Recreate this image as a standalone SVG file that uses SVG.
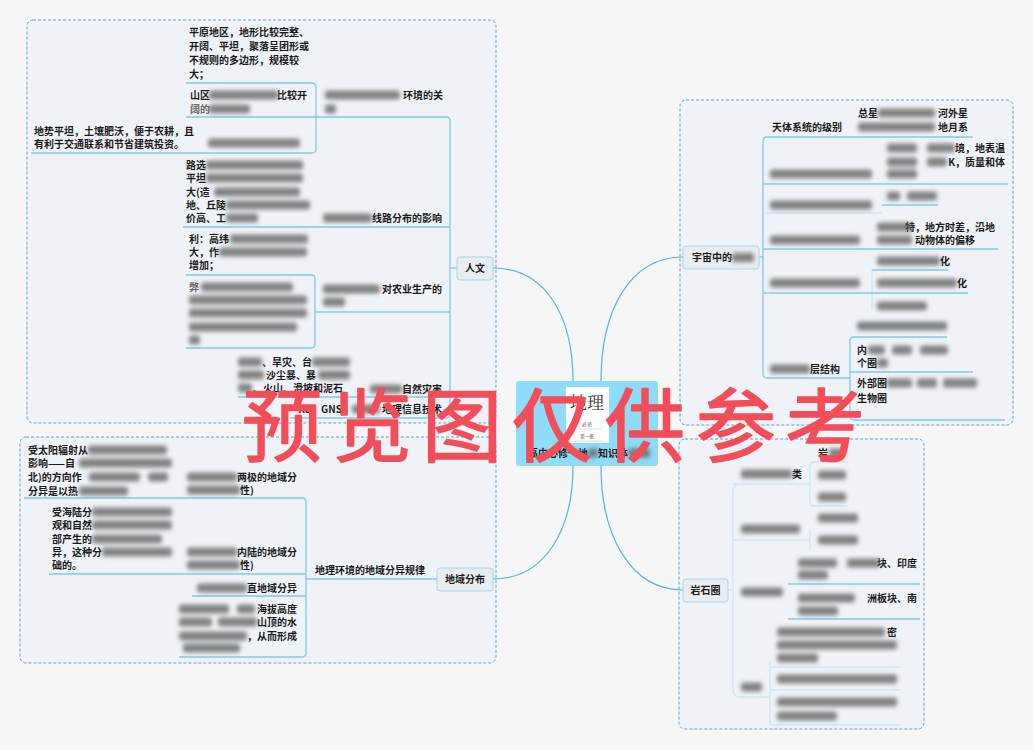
<svg xmlns="http://www.w3.org/2000/svg" width="1033" height="750" viewBox="0 0 1033 750">
<defs>
<filter id="bl" filterUnits="userSpaceOnUse" x="0" y="0" width="1033" height="750"><feGaussianBlur stdDeviation="2"/></filter>
<style>
text{font-family:"Noto Sans CJK SC","Liberation Sans",sans-serif;font-size:10px;font-weight:bold;fill:#1a1a1a}
.e{text-anchor:end}
.m{text-anchor:middle}
.b{font-weight:bold}
.bl rect{fill:#5e5e5e;opacity:.75}
.panel{fill:#eff3f7;stroke:#5f9fd8;stroke-width:1;stroke-dasharray:3 2}
.ln{fill:none;stroke:#7fcaf0;stroke-width:1.3}
.fl{fill:none;stroke:#cfe6f4;stroke-width:1.3}
.main{fill:none;stroke:#52b3ea;stroke-width:1.2}
.nd{fill:#e9edf0;stroke:#a3d7f3;stroke-width:1}
.wm{font-size:80px;font-weight:400;fill:#f24e59;stroke:#f24e59;stroke-width:1.6;stroke-linejoin:round}
</style>
</defs>
<rect width="1033" height="750" fill="#f6f6f6"/>

<!-- panels -->
<rect class="panel" x="27" y="20" width="469" height="403" rx="6"/>
<rect class="panel" x="20" y="437" width="476" height="226" rx="6"/>
<rect class="panel" x="680" y="100" width="333" height="325" rx="6"/>
<rect class="panel" x="679" y="439" width="245" height="290" rx="6"/>

<g id="connectors">
<path class="main" d="M493,268 C545,268 573,315 573,381"/>
<path class="main" d="M683,257 C630,257 601,310 601,381"/>
<path class="main" d="M493,579 C545,579 573,530 573,466"/>
<path class="main" d="M683,590 C630,590 601,535 601,466"/>
<!-- panel 1 -->
<path class="ln" d="M186,83 H312 Q316,83 316,87 V149 Q316,153 312,153 H31"/>
<path class="ln" d="M186,117 H446 Q450,117 450,121 V414 Q450,418 446,418 H290"/>
<path class="ln" d="M183,227 H450"/>
<path class="ln" d="M186,275 H311 Q315,275 315,279 V344 Q315,348 311,348 H186"/>
<path class="ln" d="M315,312 H450"/>
<path class="ln" d="M238,397 H450"/>
<path class="ln" d="M450,268 H457"/>
<!-- panel 2 -->
<path class="ln" d="M24,498 H302 Q306,498 306,502 V653 Q306,657 302,657 H179"/>
<path class="ln" d="M49,574 H306"/>
<path class="ln" d="M192,596 H306"/>
<path class="ln" d="M306,579 H437"/>
<!-- panel 3 -->
<path class="ln" d="M973,137 H767 Q763,137 763,141 V374 Q763,378 767,378 H850"/>
<path class="ln" d="M759,257 H763"/>
<path class="ln" d="M763,184 H1008"/>
<path class="ln" d="M882,205 H938"/>
<path class="fl" d="M763,213 H882"/>
<path class="ln" d="M763,249 H998"/>
<path class="ln" d="M872,270 H948"/>
<path class="fl" d="M872,270 V310"/>
<path class="ln" d="M763,293 H968"/>
<path class="ln" d="M947,337 H854 Q850,337 850,341 V416 Q850,420 854,420 H1005"/>
<path class="ln" d="M850,372 H973"/>
<!-- panel 4 -->
<path class="fl" d="M728,590 H733"/>
<path class="fl" d="M741,484 Q733,484 733,492 V689 Q733,697 741,697 H770"/>
<path class="fl" d="M733,484 H810"/>
<path class="fl" d="M848,462 H814 Q810,462 810,466 V502 Q810,506 814,506 H848"/>
<path class="fl" d="M733,540 H810 M810,530 V550"/>
<path class="ln" d="M788,584 H920"/>
<path class="ln" d="M788,619 H920"/>
<path class="fl" d="M770,667 H900 M770,690 H900 M770,725 H900 M770,660 V725"/>
</g>

<!-- center -->
<g id="center">
<rect x="516" y="381" width="142" height="85" rx="3" fill="#8edcf7"/>
<rect x="566" y="387" width="43" height="56" fill="#ffffff"/>
<text x="587" y="409" class="m" style="font-family:'Noto Serif CJK SC','Noto Sans CJK SC',serif;font-size:17px;font-weight:normal;fill:#333">地理</text>
<text x="587" y="425.5" class="m" style="font-size:4.5px;font-weight:normal;fill:#555">必 修</text>
<line x1="572" y1="429" x2="602" y2="429" stroke="#bbb" stroke-width=".5"/>
<text x="587" y="437.5" class="m" style="font-size:4.5px;font-weight:normal;fill:#555">第一册</text>
<line x1="572" y1="441" x2="602" y2="441" stroke="#bbb" stroke-width=".5"/>
<text x="528" y="457" class="b">高中必修一地</text>
<text x="598" y="457" class="b">知识体</text>
<g class="bl" filter="url(#bl)"><rect x="588" y="448.5" width="10" height="9" rx="3"/><rect x="628" y="448.5" width="22" height="9" rx="3"/></g>
</g>

<!-- main branch nodes -->
<g id="n-renwen"><rect class="nd" x="457" y="257" width="36" height="23" rx="3"/><text x="475" y="272" class="m b">人文</text></g>
<g id="n-diyu"><rect class="nd" x="437" y="568" width="56" height="23" rx="3"/><text x="465" y="583" class="m b">地域分布</text></g>
<g id="n-yuzhou"><rect class="nd" x="683" y="246" width="76" height="23" rx="3"/><text x="692" y="261" class="b">宇宙中的</text><g class="bl" filter="url(#bl)"><rect x="732" y="253" width="22" height="9" rx="3"/></g></g>
<g id="n-yanshi"><rect class="nd" x="683" y="579" width="45" height="23" rx="3"/><text x="705.5" y="594" class="m b">岩石圈</text></g>

<!-- panel 1: 人文 -->
<g id="n-pingyuan"><text x="189" y="36">平原地区，地形比较完整、</text><text x="189" y="50">开阔、平坦，聚落呈团形或</text><text x="189" y="64">不规则的多边形，规模较</text><text x="189" y="78">大；</text></g>
<g id="n-shanqu"><text x="190" y="99">山区</text><text x="307" y="99" class="e">比较开</text><text x="190" y="113" style="fill:#666">阔的</text>
<g class="bl" filter="url(#bl)"><rect x="209" y="90.5" width="69" height="9" rx="3"/><rect x="209" y="104.5" width="41" height="9" rx="3"/></g></g>
<g id="n-blur1"><g class="bl" filter="url(#bl)"><rect x="208" y="138.5" width="92" height="9" rx="3"/></g></g>
<g id="n-dishi"><text x="34" y="135">地势平坦，土壤肥沃，便于农耕，且</text><text x="34" y="148">有利于交通联系和节省建筑投资。</text></g>
<g id="n-juluo"><text x="443" y="99" class="e">环境的关</text><g class="bl" filter="url(#bl)"><rect x="325" y="90.5" width="75" height="9" rx="3"/><rect x="325" y="104.5" width="11" height="9" rx="3"/></g></g>
<g id="n-luxuan"><text x="186" y="169">路选</text><text x="186" y="182">平坦</text><text x="186" y="196">大(造</text><text x="186" y="209">地、丘陵</text><text x="186" y="222">价高、工</text>
<g class="bl" filter="url(#bl)"><rect x="206" y="160.5" width="97" height="9" rx="3"/><rect x="206" y="173.5" width="97" height="9" rx="3"/><rect x="214" y="187.5" width="86" height="9" rx="3"/><rect x="226" y="200.5" width="84" height="9" rx="3"/><rect x="226" y="213.5" width="32" height="9" rx="3"/></g></g>
<g id="n-xianlu"><text x="442" y="222" class="e">线路分布的影响</text><g class="bl" filter="url(#bl)"><rect x="323" y="213.5" width="49" height="9" rx="3"/></g></g>
<g id="n-li"><text x="189" y="243">利：高纬</text><text x="189" y="256">大，作</text><text x="189" y="269">增加；</text>
<g class="bl" filter="url(#bl)"><rect x="230" y="234.5" width="78" height="9" rx="3"/><rect x="219" y="247.5" width="88" height="9" rx="3"/></g></g>
<g id="n-bi"><text x="189" y="291" style="fill:#666">弊</text>
<g class="bl" filter="url(#bl)"><rect x="201" y="282.5" width="92" height="9" rx="3"/><rect x="189" y="295.5" width="118" height="9" rx="3"/><rect x="189" y="308.5" width="118" height="9" rx="3"/><rect x="189" y="322.5" width="108" height="9" rx="3"/><rect x="189" y="335.5" width="11" height="9" rx="3"/></g></g>
<g id="n-nongye"><text x="442" y="293" class="e">对农业生产的</text><g class="bl" filter="url(#bl)"><rect x="323" y="284.5" width="57" height="9" rx="3"/><rect x="323" y="297.5" width="22" height="9" rx="3"/></g></g>
<g id="n-zaihai-list"><text x="262" y="366">、旱灾、台</text><text x="266" y="379">沙尘暴、暴</text><text x="253" y="392">、火山、滑坡和泥石</text>
<g class="bl" filter="url(#bl)"><rect x="238" y="357.5" width="24" height="9" rx="3"/><rect x="312" y="357.5" width="38" height="9" rx="3"/><rect x="238" y="370.5" width="26" height="9" rx="3"/><rect x="318" y="370.5" width="32" height="9" rx="3"/><rect x="238" y="383.5" width="14" height="9" rx="3"/></g></g>
<g id="n-zaihai"><text x="442" y="393" class="e">自然灾害</text><g class="bl" filter="url(#bl)"><rect x="370" y="384.5" width="32" height="9" rx="3"/></g></g>
<g id="n-gis"><text x="348" y="413" class="e">RS、GNSS</text><text x="442" y="413" class="e">地理信息技术</text><g class="bl" filter="url(#bl)"><rect x="352" y="404.5" width="28" height="9" rx="3"/></g></g>

<!-- panel 2: 地域分布 -->
<g id="n-taiyang"><text x="28" y="454">受太阳辐射从</text><text x="28" y="467">影响——自</text><text x="28" y="481">北)的方向作</text><text x="28" y="495">分异是以热</text>
<g class="bl" filter="url(#bl)"><rect x="88" y="445.5" width="79" height="9" rx="3"/><rect x="79" y="458.5" width="93" height="9" rx="3"/><rect x="89" y="472.5" width="51" height="9" rx="3"/><rect x="148" y="472.5" width="20" height="9" rx="3"/><rect x="79" y="486.5" width="49" height="9" rx="3"/></g></g>
<g id="n-liangji"><text x="297" y="481" class="e">两极的地域分</text><text x="240" y="494">性)</text>
<g class="bl" filter="url(#bl)"><rect x="187" y="472.5" width="50" height="9" rx="3"/><rect x="187" y="485.5" width="53" height="9" rx="3"/></g></g>
<g id="n-hailu"><text x="52" y="516">受海陆分</text><text x="52" y="529">观和自然</text><text x="52" y="543">部产生的</text><text x="52" y="556">异，这种分</text><text x="52" y="569">础的。</text>
<g class="bl" filter="url(#bl)"><rect x="92" y="507.5" width="80" height="9" rx="3"/><rect x="92" y="520.5" width="80" height="9" rx="3"/><rect x="92" y="534.5" width="70" height="9" rx="3"/><rect x="102" y="547.5" width="70" height="9" rx="3"/></g></g>
<g id="n-neilu"><text x="297" y="556" class="e">内陆的地域分</text><text x="240" y="569">性)</text>
<g class="bl" filter="url(#bl)"><rect x="187" y="547.5" width="50" height="9" rx="3"/><rect x="187" y="560.5" width="53" height="9" rx="3"/></g></g>
<g id="n-chuizhi"><text x="297" y="592" class="e">直地域分异</text><g class="bl" filter="url(#bl)"><rect x="197" y="583.5" width="50" height="9" rx="3"/></g></g>
<g id="n-haiba"><text x="297" y="613" class="e">海拔高度</text><text x="297" y="626" class="e">山顶的水</text><text x="297" y="640" class="e">，从而形成</text>
<g class="bl" filter="url(#bl)"><rect x="179" y="604.5" width="50" height="9" rx="3"/><rect x="237" y="604.5" width="18" height="9" rx="3"/><rect x="179" y="617.5" width="33" height="9" rx="3"/><rect x="218" y="617.5" width="39" height="9" rx="3"/><rect x="179" y="631.5" width="68" height="9" rx="3"/><rect x="183" y="643.5" width="57" height="9" rx="3"/></g></g>
<g id="n-guilv"><text x="315" y="574">地理环境的地域分异规律</text></g>

<!-- panel 3: 宇宙 -->
<g id="n-jibie"><text x="772" y="131">天体系统的级别</text></g>
<g id="n-zongxingxi"><text x="858" y="117">总星</text><text x="968" y="117" class="e">河外星</text><text x="968" y="131" class="e">地月系</text>
<g class="bl" filter="url(#bl)"><rect x="878" y="108.5" width="57" height="9" rx="3"/><rect x="858" y="122.5" width="77" height="9" rx="3"/></g></g>
<g id="n-shengming"><g class="bl" filter="url(#bl)"><rect x="770" y="169.5" width="102" height="9" rx="3"/></g></g>
<g id="n-shengming-c"><text x="1005" y="152" class="e">境，地表温</text><text x="1005" y="166" class="e">K，质量和体</text>
<g class="bl" filter="url(#bl)"><rect x="887" y="143.5" width="30" height="9" rx="3"/><rect x="927" y="143.5" width="28" height="9" rx="3"/><rect x="887" y="157.5" width="30" height="9" rx="3"/><rect x="927" y="157.5" width="20" height="9" rx="3"/><rect x="887" y="169.5" width="30" height="9" rx="3"/></g></g>
<g id="n-p3"><g class="bl" filter="url(#bl)"><rect x="770" y="200.5" width="102" height="9" rx="3"/><rect x="887" y="191.5" width="13" height="9" rx="3"/><rect x="907" y="191.5" width="30" height="9" rx="3"/></g></g>
<g id="n-zizhuan"><text x="995" y="231" class="e">特，地方时差，沿地</text><text x="975" y="244" class="e">动物体的偏移</text>
<g class="bl" filter="url(#bl)"><rect x="770" y="235.5" width="90" height="9" rx="3"/><rect x="877" y="222.5" width="36" height="9" rx="3"/><rect x="877" y="235.5" width="35" height="9" rx="3"/></g></g>
<g id="n-gongzhuan"><text x="950" y="265" class="e">化</text><text x="967" y="287" class="e">化</text>
<g class="bl" filter="url(#bl)"><rect x="770" y="278.5" width="90" height="9" rx="3"/><rect x="877" y="256.5" width="63" height="9" rx="3"/><rect x="877" y="278.5" width="80" height="9" rx="3"/><rect x="877" y="301.5" width="50" height="9" rx="3"/></g></g>
<g id="n-quanceng"><text x="840" y="373" class="e">层结构</text>
<g class="bl" filter="url(#bl)"><rect x="770" y="364.5" width="40" height="9" rx="3"/><rect x="857" y="321.5" width="90" height="9" rx="3"/></g></g>
<g id="n-neibu"><text x="857" y="354">内</text><text x="857" y="367">个圈</text>
<g class="bl" filter="url(#bl)"><rect x="868" y="345.5" width="17" height="9" rx="3"/><rect x="892" y="345.5" width="20" height="9" rx="3"/><rect x="920" y="345.5" width="28" height="9" rx="3"/><rect x="877" y="358.5" width="11" height="9" rx="3"/></g></g>
<g id="n-waibu"><text x="857" y="387">外部圈</text><text x="857" y="402">生物圈</text>
<g class="bl" filter="url(#bl)"><rect x="887" y="378.5" width="25" height="9" rx="3"/><rect x="917" y="378.5" width="20" height="9" rx="3"/><rect x="943" y="378.5" width="34" height="9" rx="3"/></g></g>

<!-- panel 4: 岩石圈 -->
<g id="n-yanshi-c"><text x="818" y="457">岩</text><text x="792" y="478">类</text><text x="917" y="567" class="e">块、印度</text><text x="917" y="602" class="e">洲板块、南</text><text x="897" y="636" class="e">密</text>
<g class="bl" filter="url(#bl)">
<rect x="829" y="448.5" width="16" height="9" rx="3"/><rect x="741" y="469.5" width="51" height="9" rx="3"/><rect x="818" y="470.5" width="28" height="9" rx="3"/><rect x="818" y="492.5" width="28" height="9" rx="3"/>
<rect x="741" y="524.5" width="59" height="9" rx="3"/><rect x="818" y="513.5" width="40" height="9" rx="3"/><rect x="818" y="535.5" width="40" height="9" rx="3"/>
<rect x="741" y="587.5" width="42" height="9" rx="3"/><rect x="798" y="558.5" width="39" height="9" rx="3"/><rect x="847" y="558.5" width="33" height="9" rx="3"/><rect x="798" y="570.5" width="30" height="9" rx="3"/>
<rect x="798" y="593.5" width="57" height="9" rx="3"/><rect x="798" y="606.5" width="40" height="9" rx="3"/>
<rect x="741" y="682.5" width="21" height="9" rx="3"/><rect x="777" y="627.5" width="108" height="9" rx="3"/><rect x="777" y="640.5" width="120" height="9" rx="3"/><rect x="777" y="653.5" width="41" height="9" rx="3"/>
<rect x="777" y="674.5" width="120" height="9" rx="3"/><rect x="777" y="697.5" width="120" height="9" rx="3"/><rect x="777" y="711.5" width="60" height="9" rx="3"/>
</g></g>

<text class="wm m" x="282 372 462 552 645 736 825" y="455">预览图仅供参考</text>
</svg>
